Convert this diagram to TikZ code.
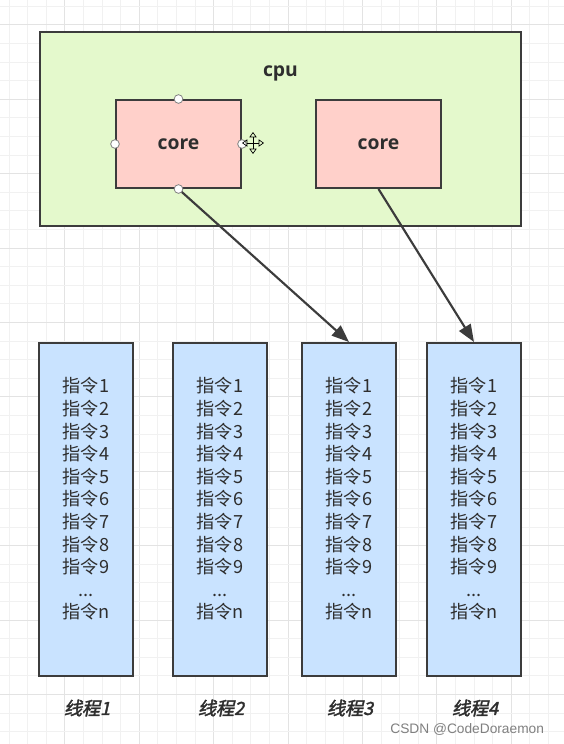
\documentclass[tikz,border=0pt]{standalone}
\usepackage{fontspec}
\setmainfont{Open Sans}
\newfontfamily\cjk{Noto Sans CJK SC}
\newfontfamily\cjkbi[FakeSlant=0.22,FakeBold=2]{Noto Sans CJK SC}
\newfontfamily\wmfont{Liberation Sans}
\usetikzlibrary{arrows.meta,positioning}

\definecolor{cpugreen}{HTML}{E4F9CC}
\definecolor{corepink}{HTML}{FFD0CA}
\definecolor{threadblue}{HTML}{C9E3FF}
\definecolor{edgegray}{HTML}{3C3C3C}
\definecolor{textgray}{HTML}{2E2E2E}
\definecolor{gridminor}{HTML}{F1F1F1}
\definecolor{gridmajor}{HTML}{E3E3E3}

\newcommand{\instrlist}{指令1\\指令2\\指令3\\指令4\\指令5\\指令6\\指令7\\指令8\\指令9\\...\\指令n\\\mbox{}}

\begin{document}
\begin{tikzpicture}[x=0.75pt, y=-0.75pt, thick]
    \tikzstyle{grid_minor} = [draw=gridminor, line width=0.75pt]
    \tikzstyle{grid_major} = [draw=gridmajor, line width=0.75pt]
    \tikzstyle{box_cpu} = [draw=edgegray, line width=1.5pt, fill=cpugreen, minimum width=360.75pt, minimum height=145.5pt, inner sep=0pt]
    \tikzstyle{box_core} = [draw=edgegray, line width=1.5pt, fill=corepink, minimum width=93.75pt, minimum height=66pt, inner sep=0pt, text=textgray, font=\bfseries\fontsize{14.5}{17}\selectfont]
    \tikzstyle{box_thread} = [draw=edgegray, line width=1.5pt, fill=threadblue, minimum width=70.5pt, minimum height=249.75pt, inner sep=0pt, align=center, text=textgray, font=\cjk\fontsize{13.6}{16.95}\selectfont]
    \tikzstyle{label_thread} = [text=textgray, font=\cjkbi\fontsize{13.6}{16}\selectfont]
    \tikzstyle{arrow_dark} = [-{Triangle[length=13pt,width=10pt]}, edgegray, line width=1.6pt]
    \tikzstyle{handle} = [draw=gray, fill=white, circle, line width=0.6pt, minimum size=6.5pt, inner sep=0pt]
    \tikzstyle{cursor_arrow} = [{Triangle[open,length=4pt,width=5.5pt]}-{Triangle[open,length=4pt,width=5.5pt]}, black, fill=white, line width=0.5pt]

    % page and grid
    \useasboundingbox (0,0) rectangle (564,744);
    \fill[white] (0,0) rectangle (564,744);
    \foreach \k in {1,...,30} {
        \pgfmathsetmacro\gx{-9.6+18.6*\k}
        \pgfmathtruncatemacro\mj{mod(\k,4)}
        \ifnum\mj=0 \draw[grid_major] (\gx,0) -- (\gx,744); \else \draw[grid_minor] (\gx,0) -- (\gx,744); \fi
    }
    \foreach \k in {0,...,39} {
        \pgfmathsetmacro\gy{6.2+18.6*\k}
        \pgfmathtruncatemacro\mj{mod(\k,4)}
        \ifnum\mj=1 \draw[grid_major] (0,\gy) -- (564,\gy); \else \draw[grid_minor] (0,\gy) -- (564,\gy); \fi
    }

    % cpu with two cores
    \node[box_cpu] (cpu) at (280.5,129) {};
    \node[text=textgray, font=\bfseries\fontsize{14.5}{17}\selectfont] (cpulabel) at (280.5,73) {cpu};
    \node[box_core] (core1) at (178.5,144) {core};
    \node[box_core] (core2) at (378.5,144) {core};

    % threads
    \node[box_thread] (t1) at (86,509.5) {\instrlist};
    \node[box_thread] (t2) at (220,509.5) {\instrlist};
    \node[box_thread] (t3) at (349,509.5) {\instrlist};
    \node[box_thread] (t4) at (474,509.5) {\instrlist};

    \node[label_thread] (l1) at (87,708) {线程1};
    \node[label_thread] (l2) at (221,708) {线程2};
    \node[label_thread] (l3) at (350,708) {线程3};
    \node[label_thread] (l4) at (475,708) {线程4};

    \draw[arrow_dark] (core1.south) -- (t3.north);
    \draw[arrow_dark] (core2.south) -- (t4.north);

    % selection handles on the first core
    \node[handle] (hn) at (core1.north) {};
    \node[handle] (hs) at (core1.south) {};
    \node[handle] (hw) at (core1.west) {};
    \node[handle] (he) at (core1.east) {};
    \draw[cursor_arrow] (242,143) -- (264,143);
    \draw[cursor_arrow] (253,132) -- (253,154);

    \node[anchor=east, text=gray, font=\wmfont\fontsize{10.3}{12}\selectfont] (mark) at (549,729) {CSDN @CodeDoraemon};
\end{tikzpicture}
\end{document}
